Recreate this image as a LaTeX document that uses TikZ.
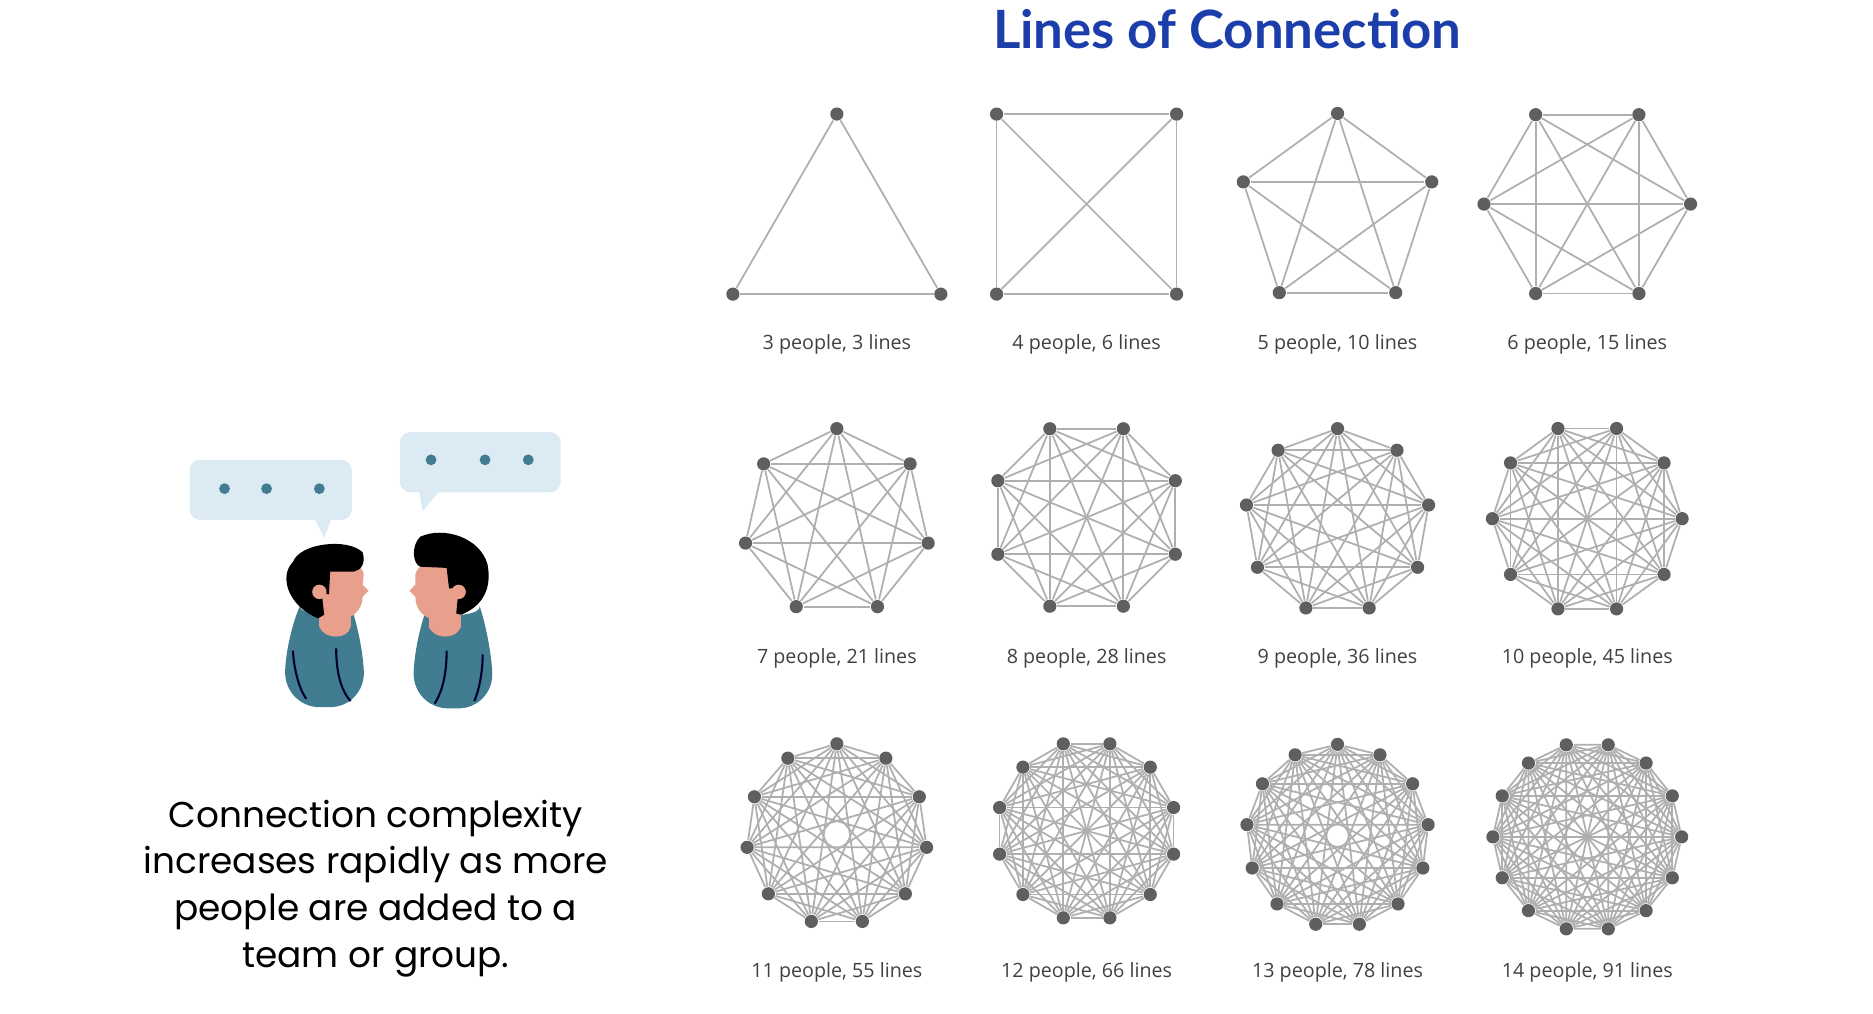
\documentclass[tikz,border=0pt]{standalone}
\usepackage{fontspec}
\setmainfont{Open Sans}
\newfontfamily\titlefont{Lato}
\newfontfamily\descfont{Poppins}
\definecolor{linegray}{RGB}{175,175,175}
\definecolor{dotgray}{RGB}{95,95,95}
\definecolor{titleblue}{RGB}{28,62,170}
\definecolor{bubble}{RGB}{220,234,243}
\definecolor{shirt}{RGB}{66,124,145}
\definecolor{skin}{RGB}{232,160,140}
\tikzset{
  dot/.style={circle, fill=dotgray, inner sep=0pt, minimum size=11*0.012cm},
  edge/.style={draw=linegray, line width=0.5pt},
  caption/.style={font=\fontsize{5.6}{7}\selectfont, text=black!75},
}
\begin{document}
\begin{tikzpicture}[x=0.012cm, y=-0.012cm]
\useasboundingbox (0,0) rectangle (1560,844);
% title
\node[font=\titlefont\bfseries\fontsize{15}{18}\selectfont, text=titleblue] (title) at (1022,24) {Lines of Connection};
% graphs: index/cx/cy/people/radius/rotation/lines
\foreach \k/\cx/\cy/\n/\r/\rot/\m in {
  1/697/195/3/100/0/3, 2/905/170/4/106/45/6, 3/1114/177/5/82.5/0/10, 4/1322/170/6/86/30/15,
  5/697/435/7/78/0/21, 6/905/431/8/80/22.5/28, 7/1114/434/9/77/0/36, 8/1322/432/10/79/18/45,
  9/697/695/11/75.5/0/55, 10/905/692/12/75/15/66, 11/1114/696/13/76/0/78, 12/1322/697/14/78.6/12.857/91}{
  \foreach \i in {1,...,\n}
    \node[dot] (g\k-\i) at ({\cx+\r*cos(90+\rot+360*(\i-1)/\n)},{\cy-\r*sin(90+\rot+360*(\i-1)/\n)}) {};
  \pgfmathtruncatemacro\nn{\n-1}
  \foreach \i in {1,...,\nn}{
    \pgfmathtruncatemacro\ii{\i+1}
    \foreach \j in {\ii,...,\n}
      \draw[edge] (g\k-\i) -- (g\k-\j);
  }
}
% captions
\node[caption] (c1) at (697,287) {3 people, 3 lines};
\node[caption] (c2) at (905,287) {4 people, 6 lines};
\node[caption] (c3) at (1114,287) {5 people, 10 lines};
\node[caption] (c4) at (1322,287) {6 people, 15 lines};
\node[caption] (c5) at (697,548) {7 people, 21 lines};
\node[caption] (c6) at (905,548) {8 people, 28 lines};
\node[caption] (c7) at (1114,548) {9 people, 36 lines};
\node[caption] (c8) at (1322,548) {10 people, 45 lines};
\node[caption] (c9) at (697,810) {11 people, 55 lines};
\node[caption] (c10) at (905,810) {12 people, 66 lines};
\node[caption] (c11) at (1114,810) {13 people, 78 lines};
\node[caption] (c12) at (1322,810) {14 people, 91 lines};
% speech bubbles
\fill[bubble, rounded corners=3pt] (158,383) rectangle (293,433);
\fill[bubble] (262,432) -- (270,448) -- (276,432) -- cycle;
\fill[bubble, rounded corners=3pt] (333,360) rectangle (467,410);
\fill[bubble] (349,409) -- (352,426) -- (366,409) -- cycle;
\foreach \x in {187,222,266} \fill[shirt] (\x,407) circle (4.5);
\foreach \x in {359,404,440} \fill[shirt] (\x,383) circle (4.5);
% left person
\fill[shirt, rounded corners=10pt] (237,589) -- (238,530) .. controls (245,515) and (295,512) .. (302,530) -- (304,589) -- cycle;
\fill[skin] (266,505) rectangle (292,522);
\fill[skin] (266,522) .. controls (270,533) and (290,533) .. (292,522) -- cycle;
\fill[skin] (260,475) .. controls (262,465) and (300,463) .. (303,478) -- (302,487) -- (307,492) -- (302,497)
  .. controls (302,515) and (280,522) .. (265,512) -- cycle;
\fill[black] (265,515) .. controls (240,505) and (232,480) .. (244,468) .. controls (250,452) and (290,448) .. (302,460)
  .. controls (305,470) and (300,475) .. (295,476) -- (275,476) -- (274,495) -- (268,494) -- (270,512) -- cycle;
\fill[skin] (266,493) circle (6);
\draw[black!80!blue, line width=0.6pt] (244,542) .. controls (245,560) and (250,575) .. (255,582);
\draw[black!80!blue, line width=0.6pt] (280,540) .. controls (280,560) and (284,575) .. (292,584);
% right person
\fill[shirt, rounded corners=10pt] (344,590) -- (345,532) .. controls (352,515) and (403,515) .. (409,532) -- (411,590) -- cycle;
\fill[skin] (357,505) rectangle (384,522);
\fill[skin] (357,522) .. controls (362,533) and (380,533) .. (384,522) -- cycle;
\fill[skin] (386,475) .. controls (382,465) and (350,463) .. (346,478) -- (346,487) -- (341,492) -- (346,497)
  .. controls (346,515) and (365,522) .. (384,512) -- cycle;
\fill[black] (384,512) .. controls (402,505) and (410,490) .. (406,470) .. controls (400,448) and (370,438) .. (350,447)
  .. controls (342,455) and (344,470) .. (350,472) -- (372,473) -- (374,490) -- (382,490) -- (380,511) -- cycle;
\fill[skin] (382,493) circle (6);
\draw[black!80!blue, line width=0.6pt] (402,545) .. controls (402,560) and (399,575) .. (395,584);
\draw[black!80!blue, line width=0.6pt] (372,542) .. controls (372,560) and (369,575) .. (362,586);
% caption text
\node[font=\descfont\fontsize{10.2}{13.3}\selectfont, align=center] (desc) at (313,740)
  {Connection complexity\\increases rapidly as more\\people are added to a\\team or group.};
\end{tikzpicture}
\end{document}
